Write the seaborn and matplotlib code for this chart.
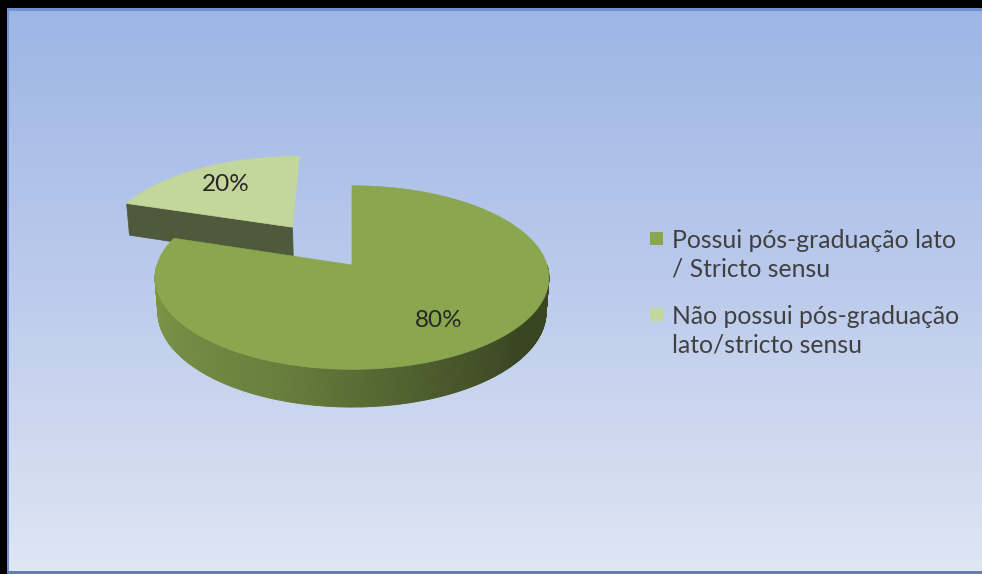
import numpy as np
import matplotlib
matplotlib.use("Agg")
import matplotlib.pyplot as plt
import seaborn as sns
from matplotlib.patches import Polygon, Rectangle
from matplotlib.collections import PolyCollection
from matplotlib.colors import LinearSegmentedColormap, to_rgb

# Data
categories = ["Possui pós-graduação lato\n/ Stricto sensu",
              "Não possui pós-graduação\nlato/stricto sensu"]
values = [80, 20]
pct_labels = ["80%", "20%"]
explode = [0.0, 0.55]

sns.set_theme(style="white")
plt.rcParams["font.family"] = ["Lato", "DejaVu Sans"]

top_colors = sns.color_palette(["#8AA750", "#C3D69B"])
wall_colors = sns.color_palette(["#8AA750", "#4E5A3B"])

W, H = 982, 574
fig = plt.figure(figsize=(W / 100, H / 100), dpi=100)
ax = fig.add_axes([0, 0, 1, 1])
ax.set_xlim(0, W)
ax.set_ylim(H, 0)
ax.axis("off")

# background gradient
grad = np.linspace(0, 1, 256)[:, None]
bg = LinearSegmentedColormap.from_list("bg", ["#9CB5E4", "#BCCBEC", "#DFE6F4"])
ax.imshow(grad, cmap=bg, extent=[0, W, H, 0], aspect="auto", zorder=0)

# perspective view of a flat cylinder
elev = np.deg2rad(27.5)
dist, focal, thick = 6.5, 1268.0, 0.2
cx, cy = 352.0, 265.0


def project(X, Y, Z):
    X, Y, Z = np.broadcast_arrays(np.asarray(X, float), np.asarray(Y, float), np.asarray(Z, float))
    s, c = np.sin(elev), np.cos(elev)
    depth = dist + Y * c - Z * s
    return np.column_stack([cx + focal * X / depth, cy - focal * (Y * s + Z * c) / depth])


def shade(theta):
    t = np.mod(theta, 360)
    return np.interp(t, [180, 200, 250, 290, 320, 360],
                     [0.92, 0.88, 0.76, 0.55, 0.42, 0.42])


fracs = np.array(values, float) / sum(values)
ranges = []
start = 90.0
for f in fracs:
    end = start - 360 * f
    ranges.append((end, start))
    start = end

z = 1
label_pos = []
for i in [1, 0]:
    a0, a1 = ranges[i]
    mid = np.deg2rad((a0 + a1) / 2)
    ox, oy = explode[i] * np.cos(mid), explode[i] * np.sin(mid)
    wall_rgb = np.array(to_rgb(wall_colors[i]))

    # radial cut faces that turn toward the viewer
    for edge, nang in ((a0, a0 - 90), (a1, a1 + 90)):
        if np.sin(np.deg2rad(nang)) < -1e-6:
            ex, ey = ox + np.cos(np.deg2rad(edge)), oy + np.sin(np.deg2rad(edge))
            quad = project([ox, ex, ex, ox], [oy, ey, ey, oy], [0, 0, -thick, -thick])
            ax.add_patch(Polygon(quad, closed=True, facecolor=wall_rgb, edgecolor=wall_rgb,
                                 lw=0.5, zorder=z))
            z += 1

    # outer wall (front half only)
    th = np.linspace(a0, a1, 500)
    rad = np.deg2rad(th)
    X, Y = ox + np.cos(rad), oy + np.sin(rad)
    quads, cols = [], []
    for j in range(len(th) - 1):
        if np.sin(rad[j]) < 0 and np.sin(rad[j + 1]) < 0:
            q = project([X[j], X[j + 1], X[j + 1], X[j]],
                        [Y[j], Y[j + 1], Y[j + 1], Y[j]],
                        [0, 0, -thick, -thick])
            quads.append(q)
            cols.append(np.clip(wall_rgb * shade(th[j]), 0, 1))
    if quads:
        ax.add_collection(PolyCollection(quads, facecolors=cols, edgecolors=cols,
                                         linewidths=0.6, zorder=z))
        z += 1

    # top face
    top = project(np.r_[ox, X], np.r_[oy, Y], 0.0)
    ax.add_patch(Polygon(top, closed=True, facecolor=top_colors[i],
                         edgecolor=top_colors[i], lw=0.5, zorder=z))
    z += 1
    label_pos.append((i, project(ox + 0.7 * np.cos(mid), oy + 0.7 * np.sin(mid), 0.0)[0]))

for i, (lx, ly) in label_pos:
    ax.text(lx, ly, pct_labels[i], ha="center", va="center", fontsize=17.5,
            color="#262626", zorder=50)

# legend
square_y = [238, 314]
line_pitch = 29
for i, name in enumerate(categories):
    ax.add_patch(Rectangle((650, square_y[i] - 6.5), 13, 13, facecolor=top_colors[i],
                           edgecolor="none", zorder=50))
    for k, line in enumerate(name.split("\n")):
        ax.text(672, square_y[i] + 9.5 + k * line_pitch, line, ha="left", va="baseline",
                fontsize=17.8, color="#404040", zorder=50)

# frame
ax.add_patch(Rectangle((0, 0), W, 8, facecolor="black", edgecolor="none", zorder=60))
ax.add_patch(Rectangle((0, 0), 7, H, facecolor="black", edgecolor="none", zorder=60))
ax.add_patch(Rectangle((7, 8), W - 7, 2.5, facecolor="#6F93D0", edgecolor="none", zorder=59))
ax.add_patch(Rectangle((7, 8), 2.5, H - 8, facecolor="#6F93D0", edgecolor="none", zorder=59))
ax.add_patch(Rectangle((7, H - 3.5), W - 7, 3.5, facecolor="#5E7FB8", edgecolor="none", zorder=59))

fig.savefig("out.png", dpi=100)
